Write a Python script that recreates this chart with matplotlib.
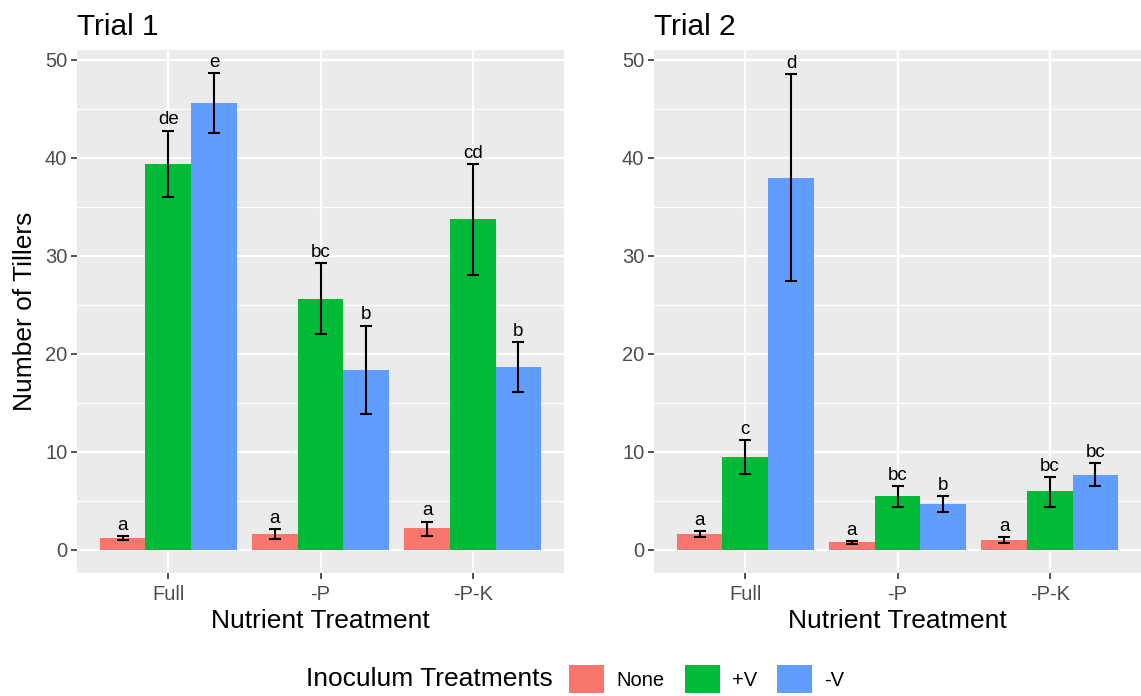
import matplotlib
matplotlib.use("Agg")
import matplotlib.pyplot as plt
import numpy as np

plt.rcParams['font.family'] = ['Liberation Sans', 'DejaVu Sans']

nutrients = ["Full", "-P", "-P-K"]
inoculum = ["None", "+V", "-V"]
colors = ["#F8766D", "#00BA38", "#619CFF"]

# Trial 1: rows = inoculum (None, +V, -V), cols = nutrients
t1_mean = [[1.2, 1.6, 2.2],
           [39.4, 25.6, 33.8],
           [45.6, 18.4, 18.7]]
t1_lo = [[1.0, 1.1, 1.4],
         [36.0, 22.0, 28.1],
         [42.6, 13.9, 16.1]]
t1_hi = [[1.4, 2.1, 2.9],
         [42.8, 29.3, 39.4],
         [48.7, 22.9, 21.2]]
t1_letters = [["a", "a", "a"],
              ["de", "bc", "cd"],
              ["e", "b", "b"]]

# Trial 2
t2_mean = [[1.6, 0.8, 1.0],
           [9.5, 5.5, 6.0],
           [38.0, 4.7, 7.7]]
t2_lo = [[1.3, 0.6, 0.7],
         [7.8, 4.4, 4.4],
         [27.4, 3.9, 6.5]]
t2_hi = [[1.9, 0.9, 1.3],
         [11.2, 6.5, 7.4],
         [48.6, 5.5, 8.9]]
t2_letters = [["a", "a", "a"],
              ["c", "bc", "bc"],
              ["d", "b", "bc"]]

W, H = 1141, 696
fig = plt.figure(figsize=(W / 100, H / 100), dpi=100)

def px_axes(x0, y0, x1, y1):
    return fig.add_axes([x0 / W, 1 - y1 / H, (x1 - x0) / W, (y1 - y0) / H])

ax1 = px_axes(77, 50, 564, 573)
ax2 = px_axes(654, 50, 1141, 573)

bw = 0.3
handles = []
for ax, mean, lo, hi, letters, title in [
        (ax1, t1_mean, t1_lo, t1_hi, t1_letters, "Trial 1"),
        (ax2, t2_mean, t2_lo, t2_hi, t2_letters, "Trial 2")]:
    ax.set_facecolor("#EBEBEB")
    x = np.arange(1, len(nutrients) + 1)
    hs = []
    for i in range(3):
        xi = x + (i - 1) * bw
        m = np.array(mean[i])
        l = np.array(lo[i])
        h = np.array(hi[i])
        b = ax.bar(xi, m, width=bw, color=colors[i], zorder=3, label=inoculum[i])
        hs.append(b)
        ax.errorbar(xi, m, yerr=[m - l, h - m], fmt='none', ecolor='black',
                    elinewidth=1.5, capsize=4.5, capthick=1.5, zorder=4)
        for j in range(len(x)):
            ax.annotate(letters[i][j], (xi[j], h[j]), xytext=(0, 1.5),
                        textcoords='offset points', ha='center', va='bottom',
                        fontsize=13.5, color='black', zorder=5)
    handles = hs
    ax.set_xlim(0.4, 3.6)
    ax.set_ylim(-2.35, 51.02)
    ax.set_yticks([0, 10, 20, 30, 40, 50])
    ax.set_yticks([5, 15, 25, 35, 45], minor=True)
    ax.set_xticks(x)
    ax.set_xticklabels(nutrients)
    ax.grid(True, which='major', color='white', linewidth=1.6, zorder=0)
    ax.grid(True, which='minor', axis='y', color='white', linewidth=0.8, zorder=0)
    ax.set_axisbelow(True)
    for s in ax.spines.values():
        s.set_visible(False)
    ax.tick_params(axis='both', which='major', length=4, width=1.2, color='#333333',
                   labelsize=14.5, labelcolor='#4D4D4D', pad=3)
    ax.tick_params(axis='x', which='major', pad=5)
    ax.tick_params(axis='both', which='minor', length=0)
    ax.set_xlabel("Nutrient Treatment", fontsize=19, color='black', labelpad=3)
    ax.set_title(title, loc='left', fontsize=21.5, color='black', pad=11)

ax1.set_ylabel("Number of Tillers", fontsize=19, color='black', labelpad=6)

fig.text(553 / W, 1 - 679 / H, "Inoculum Treatments", fontsize=19,
         ha='right', va='center', color='black')
leg = fig.legend(handles=handles, labels=inoculum, loc='center left',
                 bbox_to_anchor=(569 / W, 1 - 679 / H), ncol=3, frameon=False,
                 fontsize=14.5, handlelength=1.75, handleheight=1.75,
                 handletextpad=0.6, columnspacing=1.0, borderaxespad=0,
                 borderpad=0)

fig.savefig("out.png", dpi=100)
